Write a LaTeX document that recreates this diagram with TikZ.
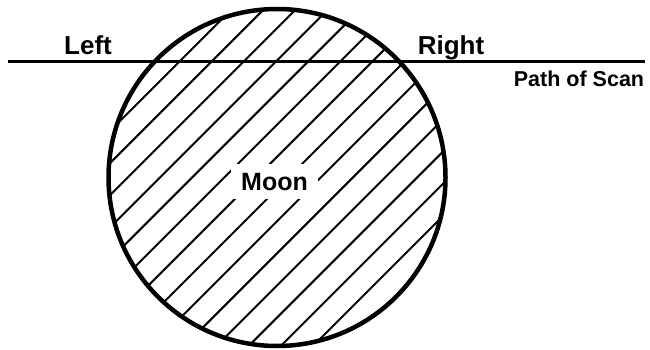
\documentclass[tikz,border=0pt]{standalone}
\usepackage{fontspec}
\setmainfont{Liberation Sans}
\begin{document}
\begin{tikzpicture}[x=1pt,y=1pt,
  lbl/.style={font=\bfseries\fontsize{26}{26}\selectfont, inner sep=0pt, anchor=base},
  small/.style={font=\bfseries\fontsize{21.5}{21.5}\selectfont, inner sep=0pt, anchor=base},
  hatch/.style={line width=2pt},
  rim/.style={line width=4.5pt},
  scan/.style={line width=2.5pt}]
\useasboundingbox (0,0) rectangle (650,-350);
\coordinate (C) at (277,-177.5);
% hatching
\begin{scope}
  \clip (C) circle (168.5);
  \foreach \k in {0,...,13}{
    \pgfmathsetmacro{\c}{241+32.15*\k}
    \draw[hatch] (\c-360,-360) -- (\c+10,10);
  }
\end{scope}
% Moon label with white gap
\node[font=\bfseries\fontsize{25}{25}\selectfont, fill=white, inner xsep=10pt, inner ysep=9pt, anchor=base] (moon) at (274.5,-190) {Moon};
% rim
\draw[rim] (C) circle (168.5);
% scan line
\coordinate (sL) at (8,-61.5);
\coordinate (sR) at (645,-61.5);
\draw[scan] (sL) -- (sR);
\node[lbl] (left) at (88,-55) {Left};
\node[lbl] (right) at (451,-55) {Right};
\node[small] (path) at (579,-87) {Path of Scan};
\end{tikzpicture}
\end{document}
